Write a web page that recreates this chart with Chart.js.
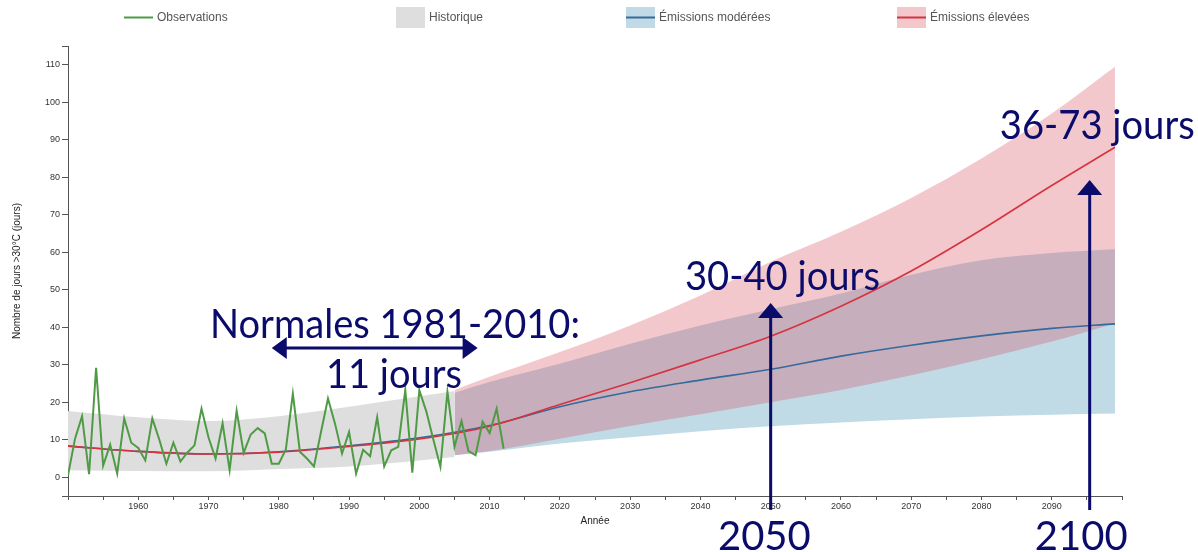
<!DOCTYPE html>
<html lang="fr">
<head>
<meta charset="utf-8">
<title>Nombre de jours &gt;30°C</title>
<script src="https://cdn.jsdelivr.net/npm/chart.js@4.4.1/dist/chart.umd.min.js"></script>
<style>
  html, body { margin: 0; padding: 0; background: #fff; }
  #wrap { width: 1198px; height: 552px; position: relative; }
</style>
</head>
<body>
<div id="wrap"><canvas id="chaleur"></canvas></div>
<script>
// observations annuelles, 1950 -> 2012
const obsStart = 1950;
const obsValues = [
  0.5, 10.3, 16.3, 0.8, 29.2, 3.1, 8.7, 1.0, 15.7, 9.2,
  7.8, 4.5, 15.7, 10.0, 3.6, 9.2, 4.2, 6.6, 8.5, 18.3,
  10.6, 5.0, 14.4, 1.9, 17.7, 6.5, 11.4, 13.1, 11.7, 3.6,
  3.6, 7.4, 22.3, 6.8, 5.0, 2.9, 12.0, 21.0, 14.3, 6.3,
  12.1, 1.0, 7.3, 5.6, 16.0, 2.9, 7.2, 8.1, 23.3, 1.2,
  23.2, 17.5, 10.0, 2.8, 22.8, 8.1, 15.0, 7.0, 5.9, 14.8,
  11.8, 18.3, 7.6
];

// enveloppe historique (gris)
const histYears = [1950, 1960, 1970, 1980, 1990, 2000, 2005];
const histUpper = [17.7, 16.0, 15.0, 16.3, 18.8, 21.6, 23.0];
const histLower = [1.9, 1.7, 1.6, 2.2, 2.9, 4.5, 5.4];

// médianes des deux scénarios
const medYears = [1950, 1960, 1970, 1980, 1990, 2000, 2010, 2020, 2030, 2040, 2050, 2060, 2070, 2080, 2090, 2099];
const redMedian = [8.3, 6.9, 6.2, 6.7, 8.2, 10.2, 13.6, 19.4, 25.2, 31.3, 37.6, 45.6, 55.0, 66.0, 77.8, 88.0];
const blueMedian = [8.3, 6.9, 6.2, 6.8, 8.4, 10.5, 13.8, 18.8, 22.8, 25.9, 28.8, 32.3, 35.2, 37.7, 39.7, 40.9];

// enveloppes des projections
const projYears = [2005, 2010, 2020, 2030, 2040, 2050, 2060, 2070, 2080, 2090, 2099];
const redUpper = [23.3, 26.8, 33.4, 40.5, 48.5, 57.5, 65.5, 74.5, 85.0, 97.0, 109.5];
const redLower = [5.9, 7.0, 10.3, 13.7, 16.8, 20.0, 23.3, 27.2, 31.5, 36.2, 41.0];
const blueUpper = [22.5, 25.4, 30.3, 35.6, 40.5, 44.8, 49.0, 54.0, 57.9, 59.8, 60.8];
const blueLower = [5.9, 6.8, 9.0, 10.7, 12.3, 13.6, 14.6, 15.5, 16.2, 16.7, 17.0];

const yTicks = [-5, 0, 10, 20, 30, 40, 50, 60, 70, 80, 90, 100, 110, 115];
const xTicks = [];
for (let yr = 1950; yr <= 2100; yr += 5) xTicks.push(yr);

const navy = '#0b0b6b';
const green = '#4f9b45';
const red = '#d6333f';
const blue = '#356a9c';

const pts = (xs, ys) => xs.map((x, i) => ({ x: x, y: ys[i] }));
const obsPts = obsValues.map((v, i) => ({ x: obsStart + i, y: v }));

const band = { borderWidth: 0, pointRadius: 0, cubicInterpolationMode: 'monotone' };

// légende dessinée à la main
const legendPlugin = {
  id: 'legendPlugin',
  afterDraw(chart) {
    const ctx = chart.ctx;
    ctx.save();
    ctx.font = '12px "Liberation Sans", Arial, sans-serif';
    ctx.textBaseline = 'middle';
    const items = [
      { x: 124, label: 'Observations', box: null, line: green },
      { x: 396, label: 'Historique', box: '#dedede', line: null },
      { x: 626, label: 'Émissions modérées', box: '#c1dae6', line: blue },
      { x: 897, label: 'Émissions élevées', box: '#f2c8cd', line: red }
    ];
    items.forEach(it => {
      if (it.box) {
        ctx.fillStyle = it.box;
        ctx.fillRect(it.x, 7, 29, 21);
      }
      if (it.line) {
        ctx.strokeStyle = it.line;
        ctx.lineWidth = 2;
        ctx.beginPath();
        ctx.moveTo(it.x, 17.5);
        ctx.lineTo(it.x + 29, 17.5);
        ctx.stroke();
      }
      ctx.fillStyle = '#555';
      ctx.fillText(it.label, it.x + 33, 18);
    });
    ctx.restore();
  }
};

// textes et flèches par-dessus le graphique
const notesPlugin = {
  id: 'notesPlugin',
  afterDraw(chart) {
    const { ctx, scales: { x, y } } = chart;
    const px = v => x.getPixelForValue(v);
    const py = v => y.getPixelForValue(v);
    ctx.save();
    ctx.fillStyle = navy;
    ctx.strokeStyle = navy;
    ctx.font = '40px Lato, "Open Sans", sans-serif';
    ctx.textBaseline = 'alphabetic';
    ctx.textAlign = 'left';

    const notes = [
      { t: 'Normales 1981-2010:', yr: 1970.2, v: 37.1, w: 370 },
      { t: '11 jours', yr: 1986.7, v: 23.8, w: 136 },
      { t: '30-40 jours', yr: 2037.8, v: 49.9, w: 195 },
      { t: '36-73 jours', yr: 2082.6, v: 90.2, w: 195 },
      { t: '2050', yr: 2042.5, v: -19.4, w: 94 },
      { t: '2100', yr: 2087.6, v: -19.4, w: 95 }
    ];
    notes.forEach(n => ctx.fillText(n.t, px(n.yr), py(n.v), n.w));

    // flèche double horizontale
    const ay = py(34.5), ax0 = px(1979.0), ax1 = px(2008.3);
    ctx.lineWidth = 3;
    ctx.beginPath();
    ctx.moveTo(ax0 + 10, ay);
    ctx.lineTo(ax1 - 10, ay);
    ctx.stroke();
    ctx.beginPath();
    ctx.moveTo(ax0, ay);
    ctx.lineTo(ax0 + 15, ay - 11);
    ctx.lineTo(ax0 + 15, ay + 11);
    ctx.closePath();
    ctx.fill();
    ctx.beginPath();
    ctx.moveTo(ax1, ay);
    ctx.lineTo(ax1 - 15, ay - 11);
    ctx.lineTo(ax1 - 15, ay + 11);
    ctx.closePath();
    ctx.fill();

    // flèches verticales
    [[2050, 46.5], [2095.4, 79.3]].forEach(([yr, top]) => {
      const vx = px(yr), vt = py(top), vb = py(-8.7);
      ctx.beginPath();
      ctx.moveTo(vx, vb);
      ctx.lineTo(vx, vt + 10);
      ctx.stroke();
      ctx.beginPath();
      ctx.moveTo(vx, vt);
      ctx.lineTo(vx - 12.5, vt + 15);
      ctx.lineTo(vx + 12.5, vt + 15);
      ctx.closePath();
      ctx.fill();
    });
    ctx.restore();
  }
};

const tickFont = { family: '"Liberation Sans", Arial, sans-serif', size: 9 };

new Chart(document.getElementById('chaleur'), {
  type: 'line',
  data: {
    datasets: [
      { label: 'Observations', data: obsPts, borderColor: green, borderWidth: 2, pointRadius: 0, tension: 0, order: 0 },
      { label: 'Émissions élevées', data: pts(medYears, redMedian), borderColor: red, borderWidth: 1.6, pointRadius: 0, cubicInterpolationMode: 'monotone', order: 1 },
      { label: 'Émissions modérées', data: pts(medYears, blueMedian), borderColor: blue, borderWidth: 1.6, pointRadius: 0, cubicInterpolationMode: 'monotone', order: 2 },
      { ...band, label: 'rouge haut', data: pts(projYears, redUpper), fill: 4, backgroundColor: 'rgba(212,72,88,0.3)', order: 3 },
      { ...band, label: 'rouge bas', data: pts(projYears, redLower), fill: false, order: 4 },
      { ...band, label: 'bleu haut', data: pts(projYears, blueUpper), fill: 6, backgroundColor: 'rgba(48,132,172,0.3)', order: 5 },
      { ...band, label: 'bleu bas', data: pts(projYears, blueLower), fill: false, order: 6 },
      { ...band, label: 'Historique', data: pts(histYears, histUpper), fill: 8, backgroundColor: '#dedede', order: 7 },
      { ...band, label: 'historique bas', data: pts(histYears, histLower), fill: false, order: 8 }
    ]
  },
  options: {
    responsive: true,
    maintainAspectRatio: false,
    animation: false,
    events: [],
    layout: { padding: { top: 46, right: 76, bottom: 0, left: 0 } },
    scales: {
      x: {
        type: 'linear',
        min: 1950,
        max: 2100,
        afterBuildTicks: s => { s.ticks = xTicks.map(v => ({ value: v })); },
        afterFit: s => { s.height = 56; },
        border: { display: true, color: '#555', width: 1 },
        grid: { drawOnChartArea: false, drawTicks: true, tickLength: 4, color: '#555' },
        ticks: {
          autoSkip: false,
          maxRotation: 0,
          padding: 1,
          color: '#333',
          font: tickFont,
          callback: v => (v % 10 === 0 && v > 1950 && v < 2100) ? String(v) : ''
        },
        title: {
          display: true,
          text: 'Année',
          color: '#222',
          font: { family: '"Liberation Sans", Arial, sans-serif', size: 10 },
          padding: { top: 0, bottom: 25 }
        }
      },
      y: {
        min: -5,
        max: 115,
        afterBuildTicks: s => { s.ticks = yTicks.map(v => ({ value: v })); },
        afterFit: s => { s.width = 68; },
        border: { display: true, color: '#555', width: 1 },
        grid: { drawOnChartArea: false, drawTicks: true, tickLength: 6, color: '#555' },
        ticks: {
          padding: 2,
          color: '#333',
          font: tickFont,
          callback: v => (v < 0 || v > 110) ? '' : String(v)
        },
        title: {
          display: true,
          text: 'Nombre de jours >30°C (jours)',
          color: '#222',
          font: { family: '"Liberation Sans", Arial, sans-serif', size: 10 },
          padding: { top: 11, bottom: 0 }
        }
      }
    },
    plugins: {
      legend: { display: false },
      tooltip: { enabled: false }
    }
  },
  plugins: [legendPlugin, notesPlugin]
});
</script>
</body>
</html>
